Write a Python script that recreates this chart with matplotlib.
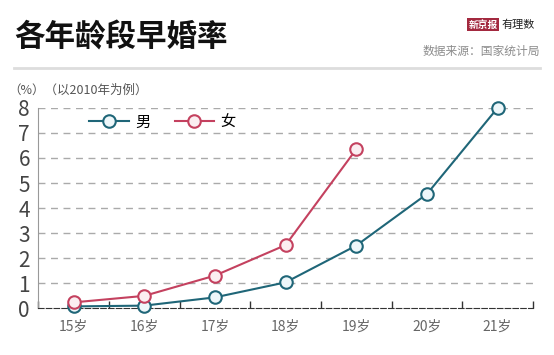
import matplotlib
matplotlib.use("Agg")
import matplotlib.pyplot as plt
from matplotlib.ticker import FixedLocator, NullFormatter

plt.rcParams["font.family"] = ["Noto Sans CJK SC", "DejaVu Sans"]

# ---------------------------------------------------------------------------
# Data
# ---------------------------------------------------------------------------
ages = ["15岁", "16岁", "17岁", "18岁", "19岁", "20岁", "21岁"]
male = [0.07, 0.10, 0.43, 1.03, 2.50, 4.56, 8.00]
female = [0.23, 0.49, 1.30, 2.52, 6.35]
y_ticks = [0, 1, 2, 3, 4, 5, 6, 7, 8]

MALE_C = "#1f6678"
FEMALE_C = "#c4415f"

fig = plt.figure(figsize=(5.54, 3.55), dpi=100)
fig.patch.set_facecolor("white")

ax = fig.add_axes([0.069, 0.132, 0.893, 0.564])

x_m = list(range(len(male)))
x_f = list(range(len(female)))
ax.plot(x_m, male, color=MALE_C, lw=1.5, marker="o", ms=9, mew=1.5,
        mfc="#eef7fa", mec=MALE_C, label="男", zorder=4, clip_on=False)
ax.plot(x_f, female, color=FEMALE_C, lw=1.5, marker="o", ms=9, mew=1.5,
        mfc="#fbeef1", mec=FEMALE_C, label="女", zorder=4, clip_on=False)

ax.set_xlim(-0.5, len(ages) - 0.5)
ax.set_ylim(0, 8)
ax.set_yticks(y_ticks)
ax.set_yticklabels([str(v) for v in y_ticks], fontsize=15, color="#444444",
                   fontweight="light")
ax.set_xticks(range(len(ages)))
ax.set_xticklabels(ages, fontsize=10, color="#666666")
ax.tick_params(axis="x", which="major", length=0, pad=8)
ax.tick_params(axis="y", length=0, pad=6)
ax.xaxis.set_minor_locator(FixedLocator([i - 0.5 for i in range(len(ages) + 1)]))
ax.xaxis.set_minor_formatter(NullFormatter())
ax.tick_params(axis="x", which="minor", direction="in", length=5, width=1,
               color="#333333")

for v in y_ticks[1:]:
    ax.axhline(v, color="#aaaaaa", lw=1, ls=(0, (5, 4)), zorder=1)

for side in ("top", "right"):
    ax.spines[side].set_visible(False)
ax.spines["left"].set_color("#999999")
ax.spines["bottom"].set_color("#333333")
ax.spines["bottom"].set_linestyle((0, (5, 2)))

ax.legend(loc="upper left", bbox_to_anchor=(0.075, 1.04), ncol=2,
          frameon=False, fontsize=11, handlelength=2.6,
          columnspacing=1.6, handletextpad=0.4)

# ---------------------------------------------------------------------------
# Header
# ---------------------------------------------------------------------------
fig.text(0.025, 0.895, "各年龄段早婚率", fontsize=22, fontweight="bold",
         color="#111111", va="center", ha="left")
fig.text(0.898, 0.93, "新京报", fontsize=7, fontweight="bold", color="white",
         va="center", ha="right",
         bbox=dict(boxstyle="square,pad=0.15", fc="#a3293f", ec="none"))
fig.text(0.905, 0.93, "有理数", fontsize=8, style="italic", color="#222222",
         va="center", ha="left")
fig.text(0.975, 0.855, "数据来源：国家统计局", fontsize=8.5, color="#8c8c8c",
         va="center", ha="right")
fig.add_artist(plt.Line2D([0.025, 0.975], [0.808, 0.808],
                          color="#dddddd", lw=2, transform=fig.transFigure))
fig.text(0.015, 0.745, "（%）（以2010年为例）", fontsize=9, color="#555555",
         va="center", ha="left")

fig.savefig("out.png", dpi=100)
